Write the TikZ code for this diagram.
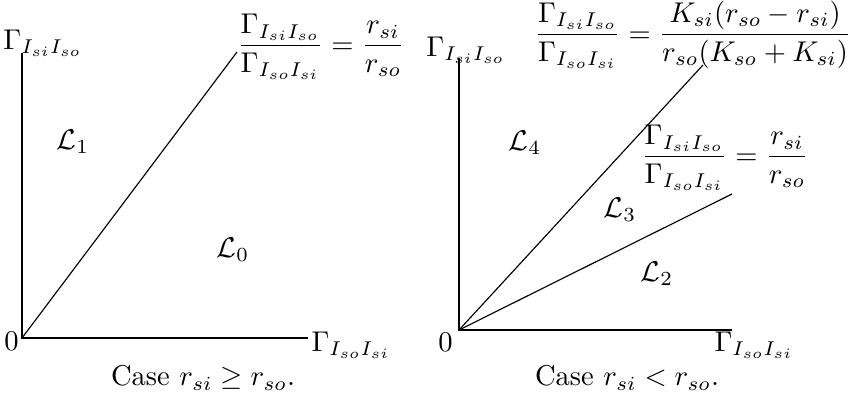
\documentclass[tikz,border=0pt]{standalone}
\usepackage{amsmath}
\begin{document}
\begin{tikzpicture}[x=0.35pt,y=-0.35pt,
  axis/.style={line width=0.4pt},
  ray/.style={line width=0.4pt},
  lbl/.style={inner sep=0pt}]
\useasboundingbox (0,0) rectangle (852,400);
% left plot
\coordinate (O1) at (22,338);
\coordinate (Y1) at (22,53);
\coordinate (X1) at (308,338);
\coordinate (D1) at (237,52);
\draw[axis] (Y1) -- (O1) -- (X1);
\draw[ray] (O1) -- (D1);
\node[lbl,anchor=east] (z1) at ([xshift=-1pt,yshift=-1pt]O1) {$0$};
\node[lbl] (gy1) at (43,43) {$\Gamma_{I_{si}I_{so}}$};
\node[lbl,anchor=west] (gx1) at (311,345) {$\Gamma_{I_{so}I_{si}}$};
\node[lbl] (f1) at (321,47) {$\displaystyle\frac{\Gamma_{I_{si}I_{so}}}{\Gamma_{I_{so}I_{si}}}=\frac{r_{si}}{r_{so}}$};
\node[lbl] (L1) at (73,142) {$\mathcal{L}_1$};
\node[lbl] (L0) at (233,250) {$\mathcal{L}_0$};
\node[lbl] (c1) at (203,378) {Case $r_{si}\geq r_{so}$.};
% right plot
\coordinate (O2) at (459,330);
\coordinate (Y2) at (459,58);
\coordinate (X2) at (732,330);
\coordinate (D2) at (703,65);
\coordinate (E2) at (732,194);
\draw[axis] (Y2) -- (O2) -- (X2);
\draw[ray] (O2) -- (D2);
\draw[ray] (O2) -- (E2);
\node[lbl,anchor=north east] (z2) at ([xshift=-2pt,yshift=-1pt]O2) {$0$};
\node[lbl] (gy2) at (466,50) {$\Gamma_{I_{si}I_{so}}$};
\node[lbl,anchor=west] (gx2) at (714,345) {$\Gamma_{I_{so}I_{si}}$};
\node[lbl] (f2) at (693,35) {$\displaystyle\frac{\Gamma_{I_{si}I_{so}}}{\Gamma_{I_{so}I_{si}}}=\frac{K_{si}(r_{so}-r_{si})}{r_{so}(K_{so}+K_{si})}$};
\node[lbl] (f3) at (725,158) {$\displaystyle\frac{\Gamma_{I_{si}I_{so}}}{\Gamma_{I_{so}I_{si}}}=\frac{r_{si}}{r_{so}}$};
\node[lbl] (L4) at (525,143) {$\mathcal{L}_4$};
\node[lbl] (L3) at (620,210) {$\mathcal{L}_3$};
\node[lbl] (L2) at (657,274) {$\mathcal{L}_2$};
\node[lbl] (c2) at (627,378) {Case $r_{si}<r_{so}$.};
\end{tikzpicture}
\end{document}
